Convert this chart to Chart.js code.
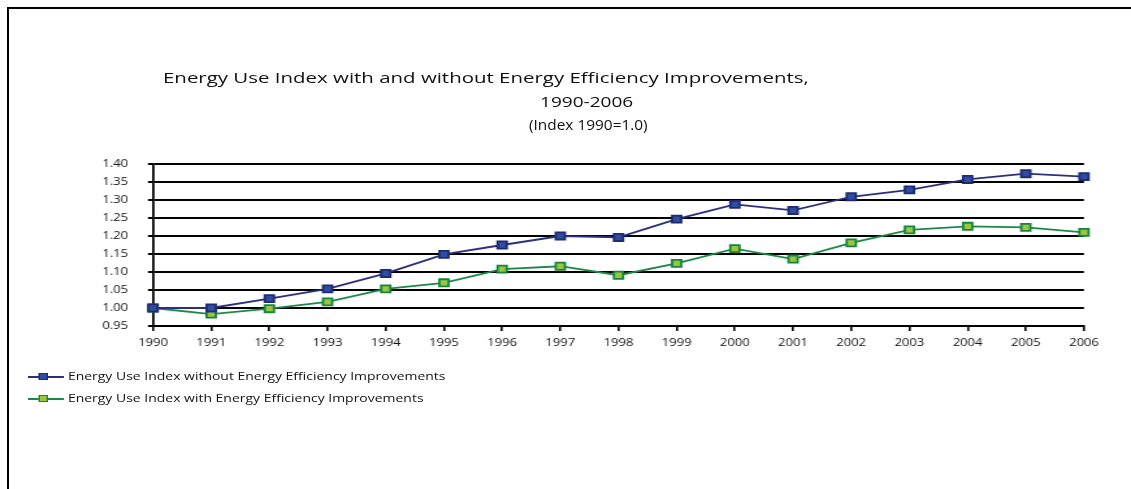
<!DOCTYPE html>
<html>
<head>
<meta charset="utf-8">
<script src="https://cdn.jsdelivr.net/npm/chart.js@4.4.0/dist/chart.umd.min.js"></script>
<style>
    body { margin: 0; background: #fff; }
    #wrap { position: relative; width: 1131px; height: 489px; overflow: hidden; font-family: 'Open Sans', sans-serif; }
    #frame { position: absolute; left: 7px; top: 7px; width: 1130px; height: 500px; border-top: 2px solid #000; border-left: 2px solid #000; }
    #energy-chart { position: absolute; left: 0; top: 0; transform-origin: 0 0; }
    .title { position: absolute; font-size: 14px; color: #111; white-space: nowrap; transform-origin: 0 0; }
    .legend { position: absolute; left: 28px; font-size: 10.5px; color: #111; white-space: nowrap; transform: scaleX(1.33); transform-origin: 0 0; }
    .legend .line { display: inline-block; position: relative; width: 27px; height: 2px; vertical-align: middle; margin-right: 3px; }
    .legend .mark { position: absolute; left: 8px; top: -3px; width: 5px; height: 5px; border: 1.5px solid; }
</style>
</head>
<body>
<div id="wrap">
    <div id="frame"></div>
    <canvas id="energy-chart"></canvas>
    <div class="title" style="left:163px; top:68px; transform:scaleX(1.46);">Energy Use Index with and without Energy Efficiency Improvements,</div>
    <div class="title" style="left:540px; top:92px; transform:scaleX(1.36);">1990-2006</div>
    <div class="title" style="left:529px; top:115px; transform:scaleX(1.1);">(Index 1990=1.0)</div>
    <div class="legend" style="top:369px;"><span class="line" style="background:#2b2f7e;"><span class="mark" style="background:#2f4ea0; border-color:#1f2a70;"></span></span>Energy Use Index without Energy Efficiency Improvements</div>
    <div class="legend" style="top:391px;"><span class="line" style="background:#1b8a48;"><span class="mark" style="background:#9cc63c; border-color:#148442;"></span></span>Energy Use Index with Energy Efficiency Improvements</div>
</div>
<script>
    const years = ['1990', '1991', '1992', '1993', '1994', '1995', '1996', '1997', '1998',
        '1999', '2000', '2001', '2002', '2003', '2004', '2005', '2006'];
    const withoutEfficiency = [1.00, 1.00, 1.026, 1.053, 1.096, 1.149, 1.175, 1.200, 1.196,
        1.247, 1.288, 1.271, 1.309, 1.328, 1.357, 1.373, 1.365];
    const withEfficiency = [1.00, 0.983, 0.998, 1.017, 1.053, 1.070, 1.108, 1.116, 1.091,
        1.124, 1.165, 1.136, 1.181, 1.217, 1.227, 1.224, 1.210];
    const yMin = 0.95;
    const yMax = 1.40;
    const yStep = 0.05;

    // the original picture is stretched sideways, so draw narrow and widen the canvas
    const stretch = 1.3;
    const canvas = document.getElementById('energy-chart');
    canvas.width = Math.round(1131 / stretch);
    canvas.height = 489;
    canvas.style.width = canvas.width + 'px';
    canvas.style.height = '489px';
    canvas.style.transform = 'scaleX(' + (1131 / canvas.width) + ')';

    const tickFont = { family: 'Open Sans', size: 10 };

    new Chart(canvas, {
        type: 'line',
        data: {
            labels: years,
            datasets: [{
                label: 'Energy Use Index without Energy Efficiency Improvements',
                data: withoutEfficiency,
                borderColor: '#2b2f7e',
                borderWidth: 1.8,
                pointStyle: 'rect',
                pointRadius: 5,
                pointBorderWidth: 1.8,
                pointBackgroundColor: '#2f4ea0',
                pointBorderColor: '#1f2a70',
                tension: 0
            }, {
                label: 'Energy Use Index with Energy Efficiency Improvements',
                data: withEfficiency,
                borderColor: '#1b8a48',
                borderWidth: 1.8,
                pointStyle: 'rect',
                pointRadius: 5,
                pointBorderWidth: 1.8,
                pointBackgroundColor: '#9cc63c',
                pointBorderColor: '#148442',
                tension: 0
            }]
        },
        options: {
            responsive: false,
            animation: false,
            devicePixelRatio: 1,
            layout: { padding: { left: 0, right: 47 / stretch, top: 164, bottom: 133 } },
            plugins: {
                legend: { display: false },
                title: { display: false },
                tooltip: { enabled: false }
            },
            scales: {
                x: {
                    offset: false,
                    grid: { drawOnChartArea: false, drawTicks: true, tickLength: 5, color: '#000', lineWidth: 1.6 },
                    border: { display: true, color: '#000', width: 2 },
                    ticks: { color: '#111', font: tickFont, padding: 6, maxRotation: 0, autoSkip: false },
                    afterFit: function (scale) { scale.height = 30; }
                },
                y: {
                    min: yMin,
                    max: yMax,
                    grid: { color: '#000', lineWidth: 2, tickLength: 5 / stretch },
                    border: { display: true, color: '#000', width: 1.8 },
                    ticks: {
                        stepSize: yStep,
                        color: '#111',
                        font: tickFont,
                        padding: 20 / stretch,
                        callback: function (value) { return value.toFixed(2); }
                    },
                    afterFit: function (scale) { scale.width = 153 / stretch; }
                }
            }
        }
    });
</script>
</body>
</html>
